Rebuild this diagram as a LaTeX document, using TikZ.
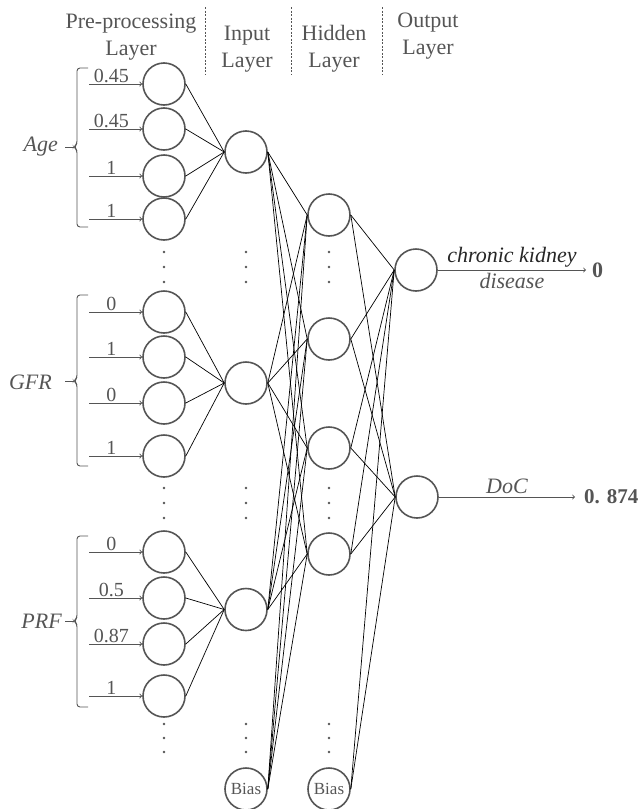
\documentclass[tikz,border=0pt]{standalone}
\usepackage{fontspec}
\setmainfont{Liberation Serif}
\usetikzlibrary{positioning}
\definecolor{txtgray}{HTML}{555555}
\tikzstyle{neuron} = [draw=txtgray, circle, line width=1.6pt,
    minimum size=42pt, inner sep=0pt]
\tikzstyle{link} = [black, line width=0.7pt]
\tikzstyle{inarrow} = [->, txtgray, line width=0.9pt]
\tikzstyle{layerlabel} = [txtgray, align=center,
    font=\fontsize{22}{27}\selectfont]
\tikzstyle{weight} = [txtgray, inner sep=1pt, font=\fontsize{20}{22}\selectfont]
\tikzstyle{feature} = [txtgray, inner sep=0pt, font=\fontsize{22}{24}\selectfont\itshape]
\tikzstyle{grp} = [txtgray, line width=0.9pt, rounded corners=3pt]
\tikzstyle{sepline} = [txtgray, dashed, dash pattern=on 2pt off 1.5pt, line width=0.6pt]
\tikzstyle{result} = [txtgray, inner ysep=0pt, font=\fontsize{22}{24}\selectfont\bfseries]

\begin{document}
\begin{tikzpicture}[x=1pt, y=-1pt]
        \useasboundingbox (0,0) rectangle (641,809);

        % layer titles
        \node[layerlabel](tpre) at (131,37) {Pre-processing\\Layer};
        \node[layerlabel](tin) at (247,49) {Input\\Layer};
        \node[layerlabel](thid) at (334,49) {Hidden\\Layer};
        \node[layerlabel](tout) at (428,36) {Output\\Layer};
        \draw[sepline] (205,7) -- (205,75);
        \draw[sepline] (291,7) -- (291,75);
        \draw[sepline] (382,7) -- (382,75);

        % pre-processing layer
        \foreach \n/\y/\v in {1/84/0.45, 2/129/0.45, 3/176/1, 4/219/1,
                5/312/0, 6/357/1, 7/403/0, 8/456/1,
                9/552/0, 10/598/0.5, 11/644/0.87, 12/696/1} {
            \node[neuron](p\n) at (164,\y) {};
            \coordinate (s\n) at (89,\y);
            \draw[inarrow] (s\n) -- node[weight, above, pos=0.42] {\v} (p\n);
        }

        % group brackets
        \foreach \t/\m/\b in {68/147/227, 295/381/466, 536/621/707} {
            \draw[grp] (88,\t) -- (77,\t) -- (77,\m-3) -- (74,\m) -- (77,\m+3)
                -- (77,\b) -- (88,\b);
            \draw[txtgray, line width=0.9pt] (65,\m) -- (74,\m);
        }
        \node[feature, anchor=east](age) at (58,147) {Age};
        \node[feature, anchor=east](gfr) at (52,382) {GFR};
        \node[feature, anchor=east](prf) at (62,621) {PRF};

        % input layer
        \foreach \n/\y in {1/152, 2/383, 3/609.5}
            \node[neuron](in\n) at (246,\y) {};
        \node[
            neuron,
            font=\fontsize{17}{17}\selectfont,
            text=txtgray
        ](inb) at (246,789) {Bias};

        % hidden layer
        \foreach \n/\y in {1/215, 2/339, 3/448, 4/554}
            \node[neuron](h\n) at (329,\y) {};
        \node[
            neuron,
            font=\fontsize{17}{17}\selectfont,
            text=txtgray
        ](hb) at (329,789) {Bias};

        % output layer
        \node[neuron](out1) at (416,270) {};
        \node[neuron](out2) at (417,497) {};
        \node[result, anchor=west, inner xsep=6pt](v1) at (586,270) {0};
        \node[result, anchor=west, inner xsep=9pt,
            font=\fontsize{21}{24}\selectfont\bfseries](v2) at (575,497) {0. 874};

        \foreach \x in {164,246,329}
            \foreach \y in {252,267,282,488,503,518,724,738,752}
                \fill[txtgray] (\x,\y) circle (1.3);

        \foreach \p [evaluate=\p as \g using {int(ceil(\p/4))}] in {1,...,12}
            \draw[link] (p\p.east) -- (in\g.west);
        \foreach \i in {in1,in2,in3,inb}
            \foreach \h in {h1,h2,h3,h4}
                \draw[link] (\i.east) -- (\h.west);
        \foreach \h in {h1,h2,h3,h4,hb}
            \foreach \o in {out1,out2}
                \draw[link] (\h.east) -- (\o.west);

        \draw[inarrow] (out1) -- node[above, inner sep=2pt, text=black!85,
                font=\fontsize{22}{24}\selectfont\itshape] {chronic kidney}
            node[below, inner sep=3pt, text=txtgray,
                font=\fontsize{22}{24}\selectfont\itshape] {disease} (v1);
        \draw[inarrow] (out2) -- node[above, inner sep=3pt, text=txtgray,
                font=\fontsize{22}{24}\selectfont\itshape] {DoC} (v2);
    \end{tikzpicture}
\end{document}
